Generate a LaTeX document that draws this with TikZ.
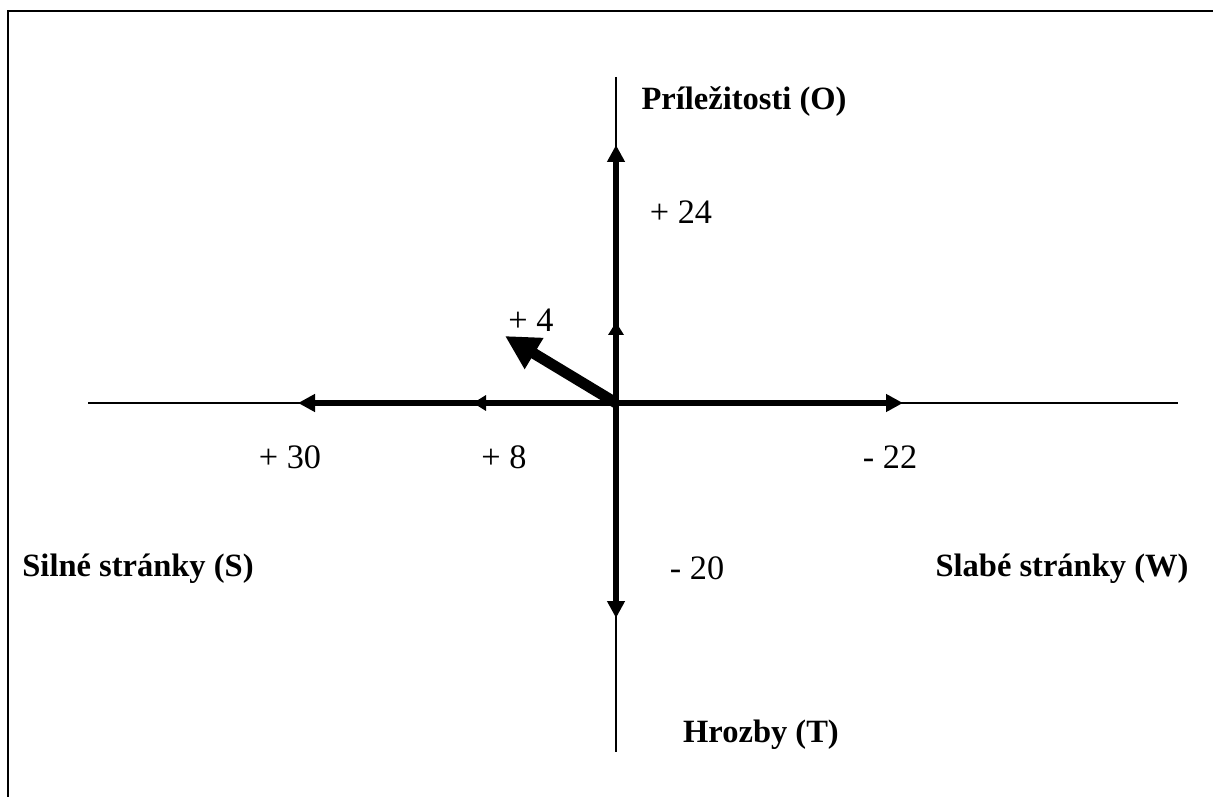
\documentclass[tikz,border=0pt]{standalone}
\usepackage{fontspec}
\setmainfont{Liberation Serif}
\usepackage{tikz}
\usetikzlibrary{arrows.meta}
\tikzset{
  swotOs/.style={line width=0.8pt},
  swotSipka/.style={-{Triangle[length=3.4mm,width=3.4mm]},line width=2.9pt},
  swotMala/.style={-{Triangle[length=2.6mm,width=3mm]},line width=2.9pt},
  swotVysledok/.style={-{Triangle[length=6.8mm,width=6.8mm]},line width=6.2pt},
  swotCislo/.style={font=\fontsize{19.5}{23}\selectfont},
  swotNazov/.style={font=\fontsize{18.5}{22}\selectfont\bfseries}
}

\begin{document}
\begin{tikzpicture}[x=0.2mm,y=0.2mm]
  \useasboundingbox (0,0) rectangle (1213,796);
  % Ramik
  \draw[line width=1.1pt] (8,-10) -- (8,785) -- (1225,785);
  % Body osi
  \coordinate (O) at (616,393);
  \coordinate (osHore) at (616,719);
  \coordinate (osDole) at (616,44);
  \coordinate (osVlavo) at (88,393);
  \coordinate (osVpravo) at (1178,393);
  \coordinate (hO) at (616,651);
  \coordinate (hOmala) at (616,474);
  \coordinate (hT) at (616,178);
  \coordinate (hS) at (298,393);
  \coordinate (hSmala) at (473,393);
  \coordinate (hW) at (903,393);
  \coordinate (vysledok) at (505,460);
  % Osi
  \draw[swotOs] (osHore) -- (osDole);
  \draw[swotOs] (osVlavo) -- (osVpravo);
  % Sipky
  \draw[swotSipka] (O) -- (hO);
  \draw[swotMala] (O) -- (hOmala);
  \draw[swotSipka] (O) -- (hT);
  \draw[swotSipka] (O) -- (hS);
  \draw[swotMala] (O) -- (hSmala);
  \draw[swotSipka] (O) -- (hW);
  \draw[swotVysledok] (O) -- (vysledok);
  % Popisy
  \node[swotNazov] (lblO) at (744,694) {Príležitosti (O)};
  \node[swotNazov] (lblS) at (138,227) {Silné stránky (S)};
  \node[swotNazov] (lblW) at (1062,227) {Slabé stránky (W)};
  \node[swotNazov] (lblT) at (761,61) {Hrozby (T)};
  \node[swotCislo] (c24) at (681,584) {+ 24};
  \node[swotCislo] (c4) at (531,476) {+ 4};
  \node[swotCislo] (c30) at (290,339) {+ 30};
  \node[swotCislo] (c8) at (504,339) {+ 8};
  \node[swotCislo] (c22) at (890,339) {- 22};
  \node[swotCislo] (c20) at (697,228) {- 20};
\end{tikzpicture}
\end{document}
